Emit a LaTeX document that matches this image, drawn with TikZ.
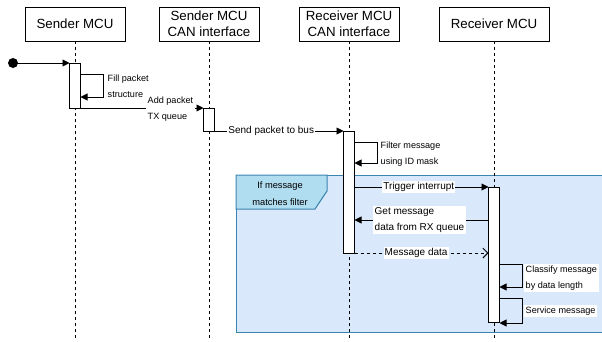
\documentclass[tikz,border=0pt]{standalone}
\usepackage{fontspec}
\setmainfont{Liberation Sans}
\usetikzlibrary{arrows.meta}
\definecolor{framefill}{HTML}{DAE8FC}
\definecolor{framedraw}{HTML}{3A84B0}
\definecolor{tabfill}{HTML}{B1DDF0}
\begin{document}
\begin{tikzpicture}[x=1pt,y=-1pt,
  header/.style={draw,line width=0.9pt,minimum width=100pt,minimum height=34pt,inner sep=0pt,align=center,font=\fontsize{13.3}{16}\selectfont},
  lifeline/.style={line width=0.9pt,dash pattern=on 3pt off 3pt},
  actbox/.style={draw,fill=white,line width=0.9pt},
  msg/.style={line width=0.9pt,-{Triangle[length=7pt,width=7pt]}},
  retmsg/.style={line width=0.9pt,dash pattern=on 3pt off 3pt,-{Straight Barb[length=5pt,width=10pt,line width=0.9pt]}},
  lbl/.style={fill=white,inner sep=1pt,font=\fontsize{10}{16}\selectfont},
  slbl/.style={fill=white,inner sep=1.5pt,align=left,anchor=west,font=\fontsize{9.1}{16}\selectfont},
  mlbl/.style={fill=white,inner sep=1.5pt,align=left,anchor=west,font=\fontsize{10}{16}\selectfont}]
\useasboundingbox (0,0) rectangle (602,341);
% frame
\fill[framefill] (236,175) rectangle (612,332);
\draw[framedraw,line width=1pt] (612,175) -- (236,175) -- (236,332) -- (612,332);
\draw[framedraw,fill=tabfill,line width=1pt] (236,175) -- (327,175) -- (327,191) -- (315,209) -- (236,209) -- cycle;
\node[align=center,font=\fontsize{9.3}{17}\selectfont] (tab) at (280,193.5) {If message\\matches filter};
% headers
\node[header] (h1) at (75,24) {Sender MCU};
\node[header] (h2) at (209,24) {Sender MCU\\CAN interface};
\node[header] (h3) at (349,24) {Receiver MCU\\CAN interface};
\node[header,minimum width=110pt] (h4) at (494,24) {Receiver MCU};
% lifelines
\coordinate (e1) at (75,341);
\coordinate (e2) at (209,341);
\coordinate (e3) at (349,341);
\coordinate (e4) at (494,341);
\draw[lifeline] (h1.south) -- (e1);
\draw[lifeline] (h2.south) -- (e2);
\draw[lifeline] (h3.south) -- (e3);
\draw[lifeline] (h4.south) -- (e4);
% activations
\draw[actbox] (69.5,63) rectangle (80.5,108);
\draw[actbox] (203.5,108) rectangle (214.5,131);
\draw[actbox] (343.5,131) rectangle (354.5,253);
\draw[actbox] (488.5,187) rectangle (499.5,322);
\coordinate (a1t) at (69.5,63);
% start
\fill (13,63) circle (5);
\coordinate (st) at (13,63);
\draw[msg] (st) -- (a1t);
% self loop 1
\coordinate (l1a) at (80.5,74);
\coordinate (l1b) at (80.5,97);
\draw[msg] (l1a) -- (103,74) -- (103,97) -- (l1b);
\node[slbl] (t1) at (106,86) {Fill packet\\structure};
% add packet
\coordinate (m2a) at (80.5,108);
\coordinate (m2b) at (203.5,108);
\draw[msg] (m2a) -- (m2b);
\node[slbl] (t2) at (146,109) {Add packet\\TX queue};
% send packet
\coordinate (m3a) at (214.5,131);
\coordinate (m3b) at (343.5,131);
\draw[msg] (m3a) -- (m3b) node[lbl,pos=0.44] (t3) {Send packet to bus};
% self loop filter
\coordinate (l2a) at (354.5,142);
\coordinate (l2b) at (354.5,163);
\draw[msg] (l2a) -- (377,142) -- (377,163) -- (l2b);
\node[slbl] (t4) at (379,154) {Filter message\\using ID mask};
% trigger
\coordinate (m5a) at (354.5,187);
\coordinate (m5b) at (488.5,187);
\draw[msg] (m5a) -- (m5b) node[lbl,pos=0.48] (t5) {Trigger interrupt};
% get message
\coordinate (m6a) at (488.5,220);
\coordinate (m6b) at (354.5,220);
\draw[msg] (m6a) -- (m6b);
\node[mlbl] (t6) at (373,220) {Get message\\data from RX queue};
% message data
\coordinate (m7a) at (354.5,253);
\coordinate (m7b) at (488.5,253);
\draw[retmsg] (m7a) -- (m7b) node[lbl,pos=0.46] (t7) {Message data};
% classify
\coordinate (l3a) at (499.5,264);
\coordinate (l3b) at (499.5,287);
\draw[msg] (l3a) -- (522,264) -- (522,287) -- (l3b);
\node[slbl] (t8) at (524,278) {Classify message\\by data length};
% service
\coordinate (l4a) at (499.5,298);
\coordinate (l4b) at (499.5,323);
\draw[msg] (l4a) -- (522,298) -- (522,323) -- (l4b);
\node[slbl] (t9) at (524,311) {Service message};
\end{tikzpicture}
\end{document}
